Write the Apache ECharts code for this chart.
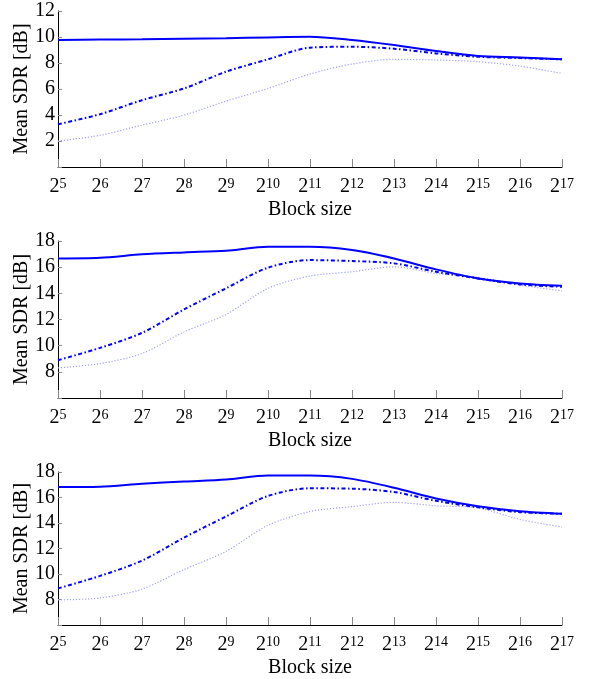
<!DOCTYPE html>
<html><head><meta charset="utf-8">
<script src="https://cdn.jsdelivr.net/npm/echarts@6/dist/echarts.min.js"></script>
<style>html,body{margin:0;padding:0;background:#fff}#c{width:593px;height:679px}</style>
</head><body><div id="c"></div>
<script>
const exponents = [5,6,7,8,9,10,11,12,13,14,15,16,17];
const categories = exponents.map(e => '2^' + e);

const p1Solid   = [9.77, 9.80, 9.83, 9.87, 9.90, 9.97, 10.02, 9.77, 9.38, 8.92, 8.54, 8.43, 8.28];
const p1DashDot = [3.29, 4.06, 5.14, 6.04, 7.33, 8.28, 9.18, 9.25, 9.10, 8.74, 8.48, 8.38, 8.28];
const p1Dotted  = [2.00, 2.44, 3.22, 3.99, 5.07, 6.04, 7.15, 7.92, 8.28, 8.23, 8.10, 7.76, 7.20];

const p2Solid   = [16.67, 16.72, 16.98, 17.13, 17.26, 17.56, 17.56, 17.31, 16.67, 15.83, 15.14, 14.76, 14.58];
const p2DashDot = [8.89, 9.83, 10.98, 12.77, 14.38, 15.96, 16.54, 16.47, 16.29, 15.65, 15.14, 14.68, 14.50];
const p2Dotted  = [8.30, 8.63, 9.40, 11.05, 12.38, 14.38, 15.32, 15.65, 16.03, 15.52, 15.22, 14.63, 14.19];

const p3Solid   = [16.82, 16.85, 17.08, 17.25, 17.41, 17.72, 17.72, 17.46, 16.77, 15.92, 15.31, 14.92, 14.72];
const p3DashDot = [8.87, 9.85, 11.05, 12.85, 14.51, 16.12, 16.72, 16.69, 16.43, 15.74, 15.23, 14.85, 14.72];
const p3Dotted  = [7.97, 8.12, 8.82, 10.35, 11.77, 13.82, 14.90, 15.28, 15.62, 15.35, 15.18, 14.28, 13.69];

const yRanges = [[0, 12], [6, 18], [6, 18]];
const xLabel = 'Block size';
const yLabel = 'Mean SDR [dB]';

const FONT = 'Liberation Serif';
const grids = [
  {left: 58, right: 31, top: 11, height: 156},
  {left: 58, right: 31, top: 241, height: 157},
  {left: 58, right: 31, top: 472, height: 156}
];
const panels = [
  [p1Solid, p1DashDot, p1Dotted],
  [p2Solid, p2DashDot, p2Dotted],
  [p3Solid, p3DashDot, p3Dotted]
];

const xAxes = grids.map((g, i) => ({
  type: 'category', gridIndex: i, data: categories, boundaryGap: false,
  name: xLabel, nameLocation: 'middle', nameGap: 33,
  nameTextStyle: {fontFamily: FONT, fontSize: 20, color: '#000'},
  axisLine: {lineStyle: {color: '#000', width: 1}},
  axisTick: {inside: true, length: 8, interval: 0, lineStyle: {color: '#888'}},
  axisLabel: {
    margin: 10, color: '#000', interval: 0, hideOverlap: false,
    fontFamily: FONT,
    formatter: v => '{b|2}{s|' + v.split('^')[1] + '}',
    rich: {
      b: {fontFamily: FONT, fontSize: 20, color: '#000', verticalAlign: 'bottom'},
      s: {fontFamily: FONT, fontSize: 14, color: '#000', verticalAlign: 'top'}
    }
  },
  splitLine: {show: false}
}));

const yAxes = yRanges.map((r, i) => ({
  type: 'value', gridIndex: i, min: r[0], max: r[1], interval: 2,
  name: yLabel, nameLocation: 'middle', nameGap: 26, nameMoveOverlap: false,
  nameTextStyle: {fontFamily: FONT, fontSize: 20, color: '#000'},
  axisLine: {show: true, lineStyle: {color: '#000', width: 1}},
  axisTick: {show: true, inside: true, length: 4, lineStyle: {color: '#888'}},
  axisLabel: {
    margin: 3, fontFamily: FONT, fontSize: 20, color: '#000',
    formatter: v => (v === r[0] ? '' : String(v))
  },
  splitLine: {show: false}
}));

const styles = [
  {color: '#0000ff', width: 2, type: 'solid'},
  {color: '#0000ff', width: 2, type: [4, 2.5, 1.5, 2.5]},
  {color: '#a0a0ff', width: 1.2, type: [1.2, 1.8]}
];

const series = [];
panels.forEach((arrs, i) => {
  arrs.forEach((d, k) => {
    series.push({
      type: 'line', xAxisIndex: i, yAxisIndex: i, data: d,
      showSymbol: false, smooth: 0.3, animation: false,
      lineStyle: styles[k], z: 3 - k
    });
  });
});

const chart = echarts.init(document.getElementById('c'), null, {renderer: 'canvas'});
chart.setOption({
  animation: false,
  backgroundColor: '#fff',
  textStyle: {fontFamily: FONT},
  grid: grids,
  xAxis: xAxes,
  yAxis: yAxes,
  series: series
});
</script></body></html>
